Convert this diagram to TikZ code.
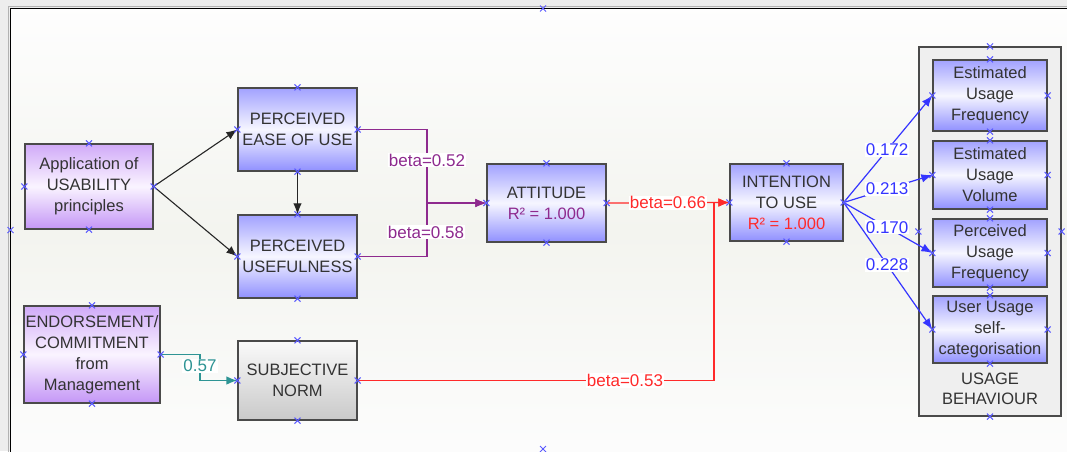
\documentclass[tikz,border=0pt]{standalone}
\usepackage{fontspec}
\setmainfont{Liberation Sans}
\usetikzlibrary{arrows.meta}

\definecolor{txt}{HTML}{333333}
\definecolor{edge}{HTML}{4A4A4A}
\definecolor{pathpurple}{HTML}{8E2A8E}
\definecolor{pathred}{HTML}{FF2A2A}
\definecolor{pathteal}{HTML}{2E9494}
\definecolor{pathblue}{HTML}{3535FF}
\definecolor{handle}{HTML}{5A5AFF}
\definecolor{bluetop}{HTML}{A2A2FF}
\definecolor{bluebot}{HTML}{9090FF}
\definecolor{bluemid}{HTML}{F6F6FF}
\definecolor{violtop}{HTML}{D0AAF8}
\definecolor{violbot}{HTML}{C496F6}
\definecolor{violmid}{HTML}{FAF4FF}
\definecolor{panel}{HTML}{EDEDED}
\definecolor{groupfill}{HTML}{EFEFEF}

\tikzset{
  box/.style={draw=edge, line width=1.3pt, rectangle, inner sep=0pt, align=center,
    text=txt, font=\fontsize{16.5}{21}\selectfont},
  latentbox/.style={box, top color=bluetop, bottom color=bluebot, middle color=bluemid},
  sourcebox/.style={box, top color=violtop, bottom color=violbot, middle color=violmid},
  normbox/.style={box, top color=white!96!gray, bottom color=gray!42},
  groupbox/.style={draw=edge, line width=1.1pt, fill=groupfill, rectangle, inner sep=0pt},
  lbl/.style={fill=white, inner sep=1pt, font=\fontsize{17}{20}\selectfont},
  tip/.style={-{Latex[length=11pt,width=8.5pt]}},
  blackpath/.style={tip, draw=black!85, line width=1.1pt},
  purplepath/.style={tip, draw=pathpurple, line width=1.2pt},
  redpath/.style={tip, draw=pathred, line width=1.3pt},
  tealpath/.style={tip, draw=pathteal, line width=1.4pt},
  bluepath/.style={tip, draw=pathblue, line width=1.2pt},
  hx/.pic={\draw[handle, line width=1pt] (-3,-3) -- (3,3) (-3,3) -- (3,-3);}
}

\begin{document}
\begin{tikzpicture}[x=1pt, y=-1pt]
  \useasboundingbox (0,0) rectangle (1067,451);
  \clip (0,0) rectangle (1067,451);

  % window background and canvas
  \fill[panel] (0,0) rectangle (1067,451);
  \shade[top color=white!99!gray, bottom color=white!98!gray, middle color={rgb,255:red,243;green,244;blue,239}]
    (10,8) rectangle (1070,455);
  \draw[gray!60, line width=1pt] (1070,6.5) -- (8.5,6.5) -- (8.5,455);
  \draw[black, line width=1.1pt] (1070,8.5) -- (10.5,8.5) -- (10.5,455);

  % group of usage indicators
  \node[groupbox, minimum width=142pt, minimum height=369pt] (grp) at (990,231.5) {};
  \node[text=txt, align=center, font=\fontsize{16.5}{20}\selectfont] (grplbl) at (990,389) {USAGE\\BEHAVIOUR};

  % constructs
  \node[sourcebox, minimum width=128pt, minimum height=85pt] (app) at (89,186.5)
    {Application of\\USABILITY\\principles};
  \node[sourcebox, minimum width=136pt, minimum height=97pt] (end) at (92,354.5)
    {ENDORSEMENT/\\COMMITMENT\\from\\Management};
  \node[latentbox, minimum width=119pt, minimum height=83pt] (peou) at (297.5,129.5)
    {PERCEIVED\\EASE OF USE};
  \node[latentbox, minimum width=119pt, minimum height=83pt] (pu) at (297.5,256.5)
    {PERCEIVED\\USEFULNESS};
  \node[normbox, minimum width=119pt, minimum height=79pt] (sn) at (297.5,380.5)
    {SUBJECTIVE\\NORM};
  \node[latentbox, minimum width=119pt, minimum height=78pt] (att) at (546.5,203)
    {ATTITUDE\\\textcolor{pathpurple}{R² = 1.000}};
  \node[latentbox, minimum width=113pt, minimum height=77pt] (int) at (786.5,202.5)
    {INTENTION\\TO USE\\\textcolor{pathred}{R² = 1.000}};
  \node[latentbox, minimum width=114pt, minimum height=71pt] (euf) at (990,95.5)
    {Estimated\\Usage\\Frequency};
  \node[latentbox, minimum width=114pt, minimum height=68pt] (euv) at (990,175)
    {Estimated\\Usage\\Volume};
  \node[latentbox, minimum width=114pt, minimum height=68pt] (puf) at (990,253)
    {Perceived\\Usage\\Frequency};
  \node[latentbox, minimum width=114pt, minimum height=67pt] (uus) at (990,329.5)
    {User Usage\\self-\\categorisation};

  % junction points of the elbow connectors
  \coordinate (jatt) at (427,203);
  \coordinate (jint) at (714,202.5);
  \coordinate (jsn) at (200,380.5);

  % structural paths
  \draw[blackpath] (app.east) -- (peou.west);
  \draw[blackpath] (app.east) -- (pu.west);
  \draw[blackpath] (peou.south) -- (pu.north);

  \draw[purplepath] (peou.east) -| (jatt) -- (att.west);
  \draw[purplepath] (pu.east) -| (jatt) -- (att.west);
  \node[lbl, text=pathpurple] (b52) at (427,160) {beta=0.52};
  \node[lbl, text=pathpurple] (b58) at (426,232) {beta=0.58};

  \draw[redpath] (att.east) -- node[lbl, text=pathred] (b66) {beta=0.66} (int.west);
  \draw[redpath] (sn.east) -| (jint) -- (int.west);
  \node[lbl, text=pathred] (b53) at (625,380.5) {beta=0.53};

  \draw[tealpath] (end.east) -| (jsn) -- (sn.west);
  \node[lbl, text=pathteal] (b57) at (200,366) {0.57};

  \draw[bluepath] (int.east) -- node[lbl, text=pathblue, pos=0.49] (w1) {0.172} (euf.west);
  \draw[bluepath] (int.east) -- node[lbl, text=pathblue, pos=0.49] (w2) {0.213} (euv.west);
  \draw[bluepath] (int.east) -- node[lbl, text=pathblue, pos=0.49] (w3) {0.170} (puf.west);
  \draw[bluepath] (int.east) -- node[lbl, text=pathblue, pos=0.49] (w4) {0.228} (uus.west);

  % selection handles
  \foreach \n in {app,end,peou,pu,sn,att,int,euf,euv,puf,uus,grp}
    \foreach \a in {north,south,east,west}
      \pic at (\n.\a) {hx};
  \pic at (543,8.5) {hx};
  \pic at (10.5,230) {hx};
  \pic at (543,449) {hx};
\end{tikzpicture}
\end{document}
